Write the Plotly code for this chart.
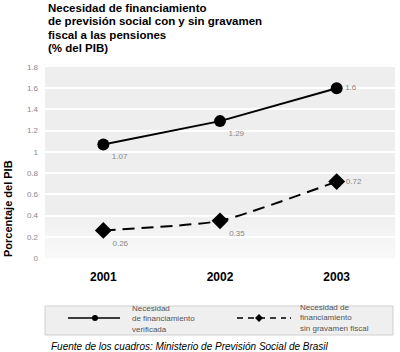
import plotly.graph_objects as go

years = ["2001", "2002", "2003"]
verificada = [1.07, 1.29, 1.6]
sin_gravamen = [0.26, 0.35, 0.72]
y_ticks = [0, 0.2, 0.4, 0.6, 0.8, 1, 1.2, 1.4, 1.6, 1.8]
y_ticklabels = ["0", "0.2", "0.4", "0.6", "0.8", "1", "1.2", "1.4", "1.6", "1.8"]
title_lines = ["Necesidad de financiamiento",
               "de previsión social con y sin gravamen",
               "fiscal a las pensiones",
               "(% del PIB)"]
legend1 = "Necesidad<br>de financiamiento<br>verificada"
legend2 = "Necesidad de<br>financiamiento<br>sin gravamen fiscal"

L, R, T, B = 45, 5, 67, 94
PW, PH = 400 - L - R, 352 - T - B


def px_x(px):
    return (px - L) / PW


def px_y(py):
    return (352 - B - py) / PH


fig = go.Figure()
fig.add_trace(go.Scatter(
    x=years, y=verificada, mode="lines+markers+text", showlegend=False,
    line=dict(color="black", width=2),
    marker=dict(symbol="circle", size=12, color="black"),
    text=[str(v) for v in verificada],
    textposition=["bottom right", "bottom right", "middle right"],
    textfont=dict(size=8, color="#888888", family="Liberation Sans"),
))
fig.add_trace(go.Scatter(
    x=years, y=sin_gravamen, mode="lines+markers+text", showlegend=False,
    line=dict(color="black", width=2, dash="12px,7px", shape="spline", smoothing=0.5),
    marker=dict(symbol="diamond", size=13, color="black"),
    text=[str(v) for v in sin_gravamen],
    textposition=["bottom right", "bottom right", "middle right"],
    textfont=dict(size=8, color="#888888", family="Liberation Sans"),
))

shapes = []
# background fade toward white at the bottom of the plot
for i in range(10):
    shapes.append(dict(type="rect", xref="paper", yref="y", x0=0, x1=1,
                       y0=0, y1=0.4 - 0.04 * i, fillcolor="white", opacity=0.12,
                       line=dict(width=0), layer="below"))

# legend box (drawn manually)
shapes.append(dict(type="rect", xref="paper", yref="paper",
                   x0=px_x(45), x1=px_x(393), y0=px_y(306), y1=px_y(335),
                   fillcolor="#efefef", line=dict(color="#cfcfcf", width=1)))
shapes.append(dict(type="line", xref="paper", yref="paper",
                   x0=px_x(68), x1=px_x(120), y0=px_y(318), y1=px_y(318),
                   line=dict(color="black", width=1.5)))
shapes.append(dict(type="circle", xref="paper", yref="paper",
                   x0=px_x(92), x1=px_x(98), y0=px_y(315), y1=px_y(321),
                   fillcolor="black", line=dict(color="black", width=0)))
shapes.append(dict(type="line", xref="paper", yref="paper",
                   x0=px_x(237), x1=px_x(286), y0=px_y(318), y1=px_y(318),
                   line=dict(color="black", width=1.5, dash="6px,5px")))
shapes.append(dict(type="line", xref="paper", yref="paper",
                   x0=px_x(290), x1=px_x(291), y0=px_y(318), y1=px_y(318),
                   line=dict(color="black", width=1.5)))
dx, dy = 4, 4
cx, cy = 259, 318
path = "M {} {} L {} {} L {} {} L {} {} Z".format(
    px_x(cx - dx), px_y(cy), px_x(cx), px_y(cy - dy),
    px_x(cx + dx), px_y(cy), px_x(cx), px_y(cy + dy))
shapes.append(dict(type="path", xref="paper", yref="paper", path=path,
                   fillcolor="black", line=dict(color="black", width=0)))

annotations = []
for i, line in enumerate(title_lines):
    annotations.append(dict(
        text="<b>" + line + "</b>", xref="paper", yref="paper",
        x=px_x(46), y=px_y(8 + 13.5 * i), xanchor="left", yanchor="middle",
        showarrow=False, font=dict(size=11.5, color="black", family="Liberation Sans")))
annotations.append(dict(
    text="<b>Porcentaje del PIB</b>", textangle=-90,
    xref="paper", yref="paper", x=px_x(8), y=px_y(209),
    xanchor="center", yanchor="middle", showarrow=False,
    font=dict(size=11, color="black", family="Liberation Sans")))
annotations.append(dict(
    text=legend1, xref="paper", yref="paper", x=px_x(130), y=px_y(319),
    xanchor="left", yanchor="middle", align="left", showarrow=False,
    font=dict(size=8, color="#555555", family="Liberation Sans")))
annotations.append(dict(
    text=legend2, xref="paper", yref="paper", x=px_x(298), y=px_y(318),
    xanchor="left", yanchor="middle", align="left", showarrow=False,
    font=dict(size=8, color="#555555", family="Liberation Sans")))
annotations.append(dict(
    text="<i>Fuente de los cuadros: Ministerio de Previsión Social de Brasil</i>",
    xref="paper", yref="paper", x=px_x(49), y=px_y(346),
    xanchor="left", yanchor="middle", showarrow=False,
    font=dict(size=10, color="black", family="Liberation Sans")))

fig.update_layout(
    width=400, height=352,
    margin=dict(l=L, r=R, t=T, b=B, autoexpand=False),
    paper_bgcolor="white",
    plot_bgcolor="#eeeeee",
    font=dict(family="Liberation Sans", color="black"),
    shapes=shapes,
    annotations=annotations,
    showlegend=False,
    xaxis=dict(
        type="category", range=[-0.5, 2.5], showgrid=False, zeroline=False,
        showline=False, ticks="",
        tickvals=years, ticktext=["<b>" + y + "</b>" for y in years],
        tickfont=dict(size=12, color="black", family="Liberation Sans"),
        ticklabelstandoff=10,
    ),
    yaxis=dict(
        range=[0, 1.8], tickvals=y_ticks, ticktext=y_ticklabels,
        showgrid=True, gridcolor="white", gridwidth=2, zeroline=False,
        tickfont=dict(size=8, color="#888888", family="Liberation Sans"),
        ticks="", ticklabelstandoff=6,
    ),
)

fig.write_html("out.html")
